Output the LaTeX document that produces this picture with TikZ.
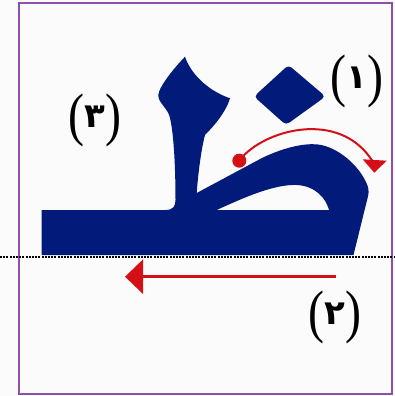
\documentclass[tikz,border=0pt]{standalone}
\usepackage{fontspec}
\usetikzlibrary{arrows.meta}
\newfontfamily\parfont{Liberation Serif}
\newfontfamily\digfont[Script=Arabic]{DejaVu Sans}
\definecolor{navy}{RGB}{2,26,122}
\definecolor{redc}{RGB}{212,16,22}
\definecolor{framec}{RGB}{140,80,170}
\definecolor{bgc}{RGB}{251,251,251}
\newcommand{\dig}[1]{\raisebox{7pt}{\digfont\bfseries\fontsize{34}{34}\selectfont #1}}
\newcommand{\lp}{\scalebox{1}[1.22]{(}}
\newcommand{\rp}{\scalebox{1}[1.22]{)}}
\begin{document}
\begin{tikzpicture}[x=1pt,y=-1pt,
  glyph/.style={fill=navy,draw=none},
  lbl/.style={font={\parfont\fontsize{48}{50}\selectfont},inner sep=0pt,text=black},
  redline/.style={draw=redc,line width=2pt},
  baseline/.style={draw=black,line width=2pt,dash pattern=on 2pt off 1.2pt}]
\fill[bgc] (0,0) rectangle (395,396);
\useasboundingbox (0,0) rectangle (395,396);
\draw[framec,line width=1.3pt] (19,3) rectangle (392,394);
% glyph body with counter
\path[glyph,even odd rule]
  (41.7,255) -- (41.7,210) -- (166,210)
  .. controls (173,210) and (175.5,206) .. (175.5,200)
  .. controls (175.5,170) and (174,135) .. (170,118)
  .. controls (168,108) and (158,103) .. (158.3,95)
  .. controls (159,86) and (176,66) .. (185,56.7)
  .. controls (190,72) and (206,90) .. (230,98.3)
  .. controls (226,112) and (214,126) .. (205,135)
  .. controls (201,150) and (198,175) .. (196.7,193)
  -- (262,158)
  .. controls (285,147) and (305,143) .. (318,144.5)
  .. controls (338,147) and (358,165) .. (366,182)
  .. controls (368.5,187) and (369,191) .. (368.3,195)
  -- (353.5,255) -- cycle
  (216.7,210) .. controls (245,197) and (275,184) .. (297,185)
  .. controls (315,186) and (326,198) .. (329,210) -- cycle;
% dot (diamond)
\path[glyph,rounded corners=4pt]
  (288.5,65) -- (325.5,96.5) -- (286,125) -- (254,96.5) -- cycle;
% baseline
\draw[baseline] (0,257) -- (395,257);
% arc arrow (1)
\node[circle,fill=redc,inner sep=0pt,minimum size=14pt] (dot) at (239.3,160.7) {};
\coordinate (arcend) at (373,162);
\draw[redline] (dot.center) .. controls (262,130) and (340,108) .. (arcend);
\fill[redc] (362.7,159.3) -- (386.7,160.7) -- (374.3,172.7) -- cycle;
% straight arrow (2)
\coordinate (a2start) at (336,276.7);
\coordinate (a2end) at (125,276.7);
\draw[redc,line width=2.6pt,-{Triangle[width=34pt,length=18pt]}] (a2start) -- (a2end);
% labels
\node[lbl] (l1) at (357,81.7) {\lp\dig{١}\rp};
\node[lbl] (l3) at (94.7,120.8) {\lp\dig{٣}\rp};
\node[lbl] (l2) at (335.3,317.5) {\lp\dig{٢}\rp};
\end{tikzpicture}
\end{document}
